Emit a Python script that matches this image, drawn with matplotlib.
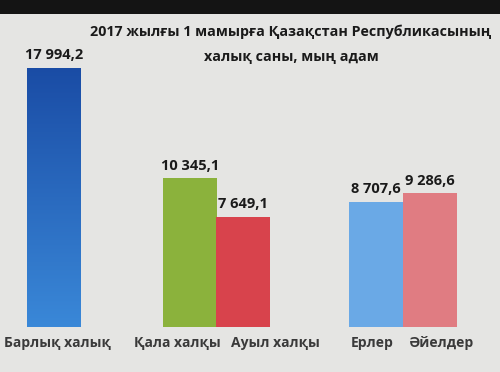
import matplotlib
matplotlib.use("Agg")
import matplotlib.pyplot as plt
import numpy as np
from matplotlib.colors import LinearSegmentedColormap

categories = ["Барлық халық", "Қала халқы", "Ауыл халқы", "Ерлер", "Әйелдер"]
values = [17994.2, 10345.1, 7649.1, 8707.6, 9286.6]
value_labels = ["17 994,2", "10 345,1", "7 649,1", "8 707,6", "9 286,6"]
title = "2017 жылғы 1 мамырға Қазақстан Республикасының\nхалық саны, мың адам"

# layout (pixel-like x coordinates of bar centres and category labels)
positions = [54, 190, 243, 376, 430]
label_positions = [57, 177, 275, 372, 441]
width = 54
colors = ["#2f6fc8", "#8bb23c", "#d8434c", "#6aa9e6", "#e07c82"]

fig = plt.figure(figsize=(5.0, 3.72), dpi=100)
fig.patch.set_facecolor("#e5e5e3")
# dark top band
band = fig.add_axes([0, 1 - 14 / 372, 1, 14 / 372])
band.set_facecolor("#141414")
band.set_xticks([]); band.set_yticks([])
for s in band.spines.values():
    s.set_visible(False)

ax = fig.add_axes([0, 45 / 372, 1, 1 - 45 / 372 - 14 / 372])
ax.set_facecolor("#e5e5e3")
ymax = 17994.2 / 259 * 313
for s in ax.spines.values():
    s.set_visible(False)
ax.set_xticks([]); ax.set_yticks([])

bars = ax.bar(positions, values, width=width, color=colors, edgecolor="none")

# gradient on the first bar
b0 = bars[0]
grad = np.linspace(0, 1, 256).reshape(-1, 1)
cmap = LinearSegmentedColormap.from_list("b", ["#3a88d8", "#1a4ca5"])
x0 = b0.get_x(); w0 = b0.get_width(); h0 = b0.get_height()
im = ax.imshow(grad, cmap=cmap, extent=[x0, x0 + w0, 0, h0], aspect="auto",
               origin="lower", zorder=3)
im.set_clip_path(b0)
ax.set_xlim(0, 500)
ax.set_ylim(0, ymax)

font = ["Open Sans", "DejaVu Sans"]
for b, lab in zip(bars, value_labels):
    cx = b.get_x() + b.get_width() / 2
    ax.annotate(lab, (cx, b.get_height()), xytext=(0, 4), textcoords="offset points",
                ha="center", va="bottom", fontsize=10.5, fontweight="bold",
                color="#1a1a1a", family=font)

for p, c in zip(label_positions, categories):
    fig.text(p / 500, 1 - 343 / 372, c, ha="center", va="center", fontsize=10,
             fontweight="bold", color="#3a3a3a", family=font)

fig.text(291 / 500, 1 - 44 / 372, title, ha="center", va="center", fontsize=10.3,
         fontweight="bold", color="#1a1a1a", family=font, linespacing=2.0)

fig.savefig("out.png", dpi=100, facecolor=fig.get_facecolor())
